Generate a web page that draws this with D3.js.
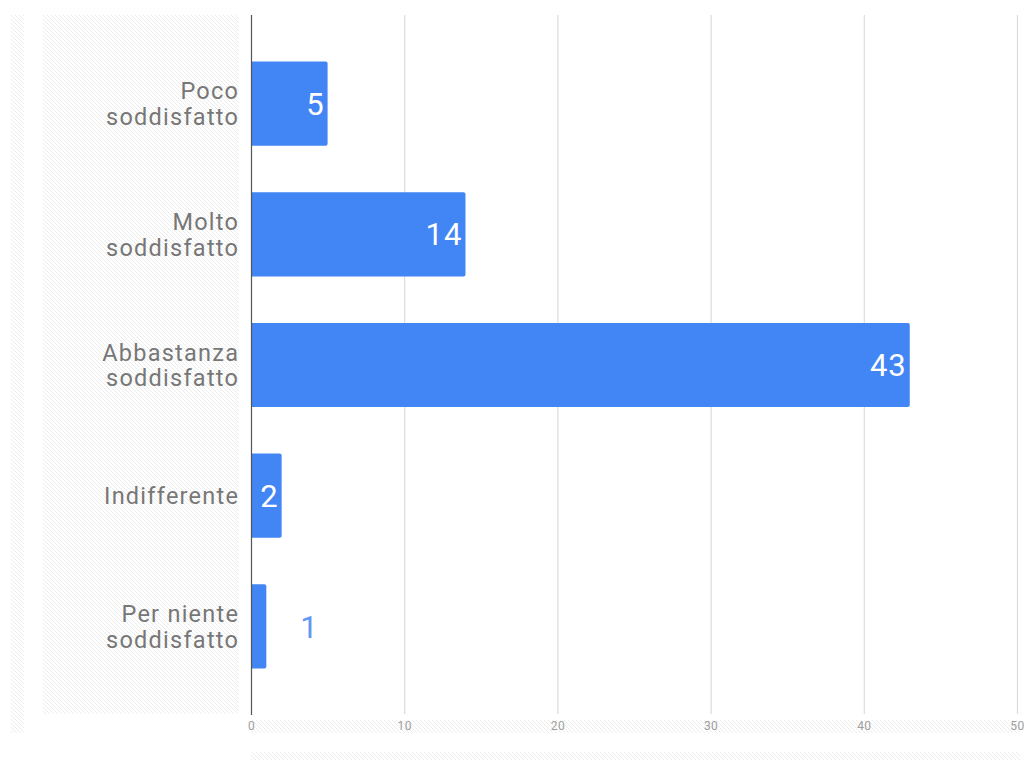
<!DOCTYPE html>
<html><head><meta charset="utf-8">
<script src="https://cdn.jsdelivr.net/npm/d3@7"></script>
<style>html,body{margin:0;padding:0;background:#fff;}svg{display:block;font-family:Roboto,"Noto Sans",sans-serif;}</style>
</head><body>
<svg id="c" width="1026" height="760"></svg>
<script>
const categories = [["Poco","soddisfatto"],["Molto","soddisfatto"],["Abbastanza","soddisfatto"],["Indifferente"],["Per niente","soddisfatto"]];
const values = [5, 14, 43, 2, 1];
const tickValues = [0, 10, 20, 30, 40, 50];

const svg = d3.select("#c");
const defs = svg.append("defs");
const pat = defs.append("pattern").attr("id","hatch").attr("patternUnits","userSpaceOnUse")
  .attr("width",4).attr("height",4);
pat.append("rect").attr("width",4).attr("height",4).attr("fill","#fff");
pat.append("path").attr("d","M-1,-1 L5,5 M-1,3 L1,5 M3,-1 L5,1").attr("stroke","#ececec").attr("stroke-width",1);

// hatched placeholder strips
svg.append("rect").attr("x",11).attr("y",15).attr("width",13).attr("height",718).attr("fill","url(#hatch)");
svg.append("rect").attr("x",43).attr("y",15).attr("width",196).attr("height",699).attr("fill","url(#hatch)");
svg.append("rect").attr("x",251).attr("y",720).attr("width",769).attr("height",13).attr("fill","url(#hatch)");
svg.append("rect").attr("x",251).attr("y",752).attr("width",769).attr("height",8).attr("fill","url(#hatch)");

const x = d3.scaleLinear().domain([0,50]).range([251,1017]);
const y = d3.scaleBand().domain(d3.range(values.length)).range([15,715]).padding(0.356);

// gridlines
svg.append("g").selectAll("line").data(tickValues.slice(1)).join("line")
  .attr("x1",d=>x(d)+0.5).attr("x2",d=>x(d)+0.5).attr("y1",15).attr("y2",714)
  .attr("stroke","#dcdcdc").attr("stroke-width",1.2);

// tick labels via axis
const ax = svg.append("g").attr("transform","translate(0,720)")
  .call(d3.axisBottom(x).tickValues(tickValues).tickSize(0).tickPadding(1));
ax.select(".domain").remove();
ax.selectAll("text").attr("fill","#9e9e9e").attr("font-size","12px").attr("letter-spacing","0.4px")
  .attr("font-family","Roboto,sans-serif");

// bars
svg.append("g").selectAll("path").data(values).join("path")
  .attr("d",(d,i)=>{
    const x0=x(0), x1=x(d), y0=y(i), h=y.bandwidth(), r=2;
    return `M${x0},${y0} H${x1-r} Q${x1},${y0} ${x1},${y0+r} V${y0+h-r} Q${x1},${y0+h} ${x1-r},${y0+h} H${x0} Z`;
  })
  .attr("fill","#4285f4");

// zero axis line
svg.append("line").attr("x1",x(0)+0.5).attr("x2",x(0)+0.5).attr("y1",15).attr("y2",715)
  .attr("stroke","#555").attr("stroke-width",1.2);

// value labels
svg.append("g").selectAll("text").data(values).join("text")
  .attr("x",(d,i)=> d>=2 ? x(d)-3 : x(d)+34)
  .attr("y",(d,i)=>y(i)+y.bandwidth()/2)
  .attr("dy","0.36em")
  .attr("text-anchor",d=> d>=2 ? "end" : "start")
  .attr("fill",d=> d>=2 ? "#fff" : "#5e97f6")
  .attr("font-size","31px")
  .attr("letter-spacing","1px")
  .text(d=>d);

// category labels
const lab = svg.append("g").selectAll("text").data(categories).join("text")
  .attr("text-anchor","end").attr("fill","#777").attr("font-size","23.5px").attr("letter-spacing","1.25px")
  .attr("transform",(d,i)=>`translate(239.2,${y(i)+y.bandwidth()/2})`);
lab.each(function(lines){
  const t=d3.select(this);
  const n=lines.length, lh=25.5;
  lines.forEach((s,k)=>{
    t.append("tspan").attr("x",0).attr("y",(k-(n-1)/2)*lh).attr("dy","0.36em").text(s);
  });
});
</script>
</body></html>
